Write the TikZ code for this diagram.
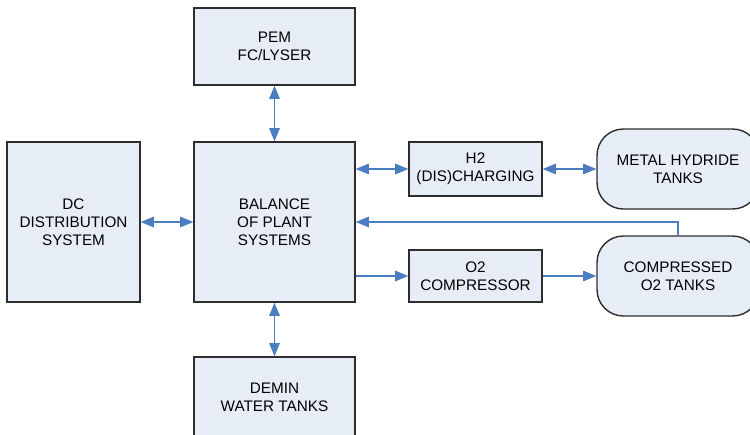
\documentclass[tikz,border=0pt]{standalone}
\usepackage{fontspec}
\setmainfont{Liberation Sans}
\usetikzlibrary{arrows.meta}
\definecolor{boxfill}{RGB}{231,237,247}
\definecolor{boxline}{RGB}{45,45,45}
\definecolor{conn}{RGB}{74,126,193}
\begin{document}
\begin{tikzpicture}[x=0.02cm,y=-0.02cm,
  blk/.style={draw=boxline,line width=0.8pt,fill=boxfill,inner sep=0pt,align=center,
    font=\fontsize{8.7}{10.2}\selectfont},
  tank/.style={blk,rounded corners=15pt},
  link/.style={draw=conn,line width=0.7pt,-{Triangle[length=7.5pt,width=6pt]}},
  dlink/.style={draw=conn,line width=0.7pt,{Triangle[length=7.5pt,width=6pt]}-{Triangle[length=7.5pt,width=6pt]}}]
\useasboundingbox (0,0) rectangle (750,434);
\node[blk,minimum width=3.22cm,minimum height=1.54cm] (pem) at (274.5,46.5) {PEM\\FC/LYSER};
\node[blk,minimum width=2.66cm,minimum height=3.2cm] (dc) at (73.5,222) {DC\\DISTRIBUTION\\SYSTEM};
\node[blk,minimum width=3.22cm,minimum height=3.2cm] (bal) at (274.5,222) {BALANCE\\OF PLANT\\SYSTEMS};
\node[blk,minimum width=2.66cm,minimum height=1.08cm] (h2) at (475.5,169) {H2\\(DIS)CHARGING};
\node[blk,minimum width=2.66cm,minimum height=1.04cm] (o2c) at (475.5,276) {O2\\COMPRESSOR};
\node[tank,minimum width=3.24cm,minimum height=1.6cm] (mh) at (678,169) {METAL HYDRIDE\\TANKS};
\node[tank,minimum width=3.24cm,minimum height=1.6cm] (co2) at (678,276) {COMPRESSED\\O2 TANKS};
\node[blk,minimum width=3.22cm,minimum height=1.6cm] (dem) at (274.5,397) {DEMIN\\WATER TANKS};
\draw[dlink] (pem.south) -- (bal.north);
\draw[dlink] (dc.east) -- (bal.west);
\draw[dlink] (h2.west -| bal.east) -- (h2.west);
\draw[dlink] (h2.east) -- (mh.west);
\draw[link] (co2.north) |- (bal.east);
\draw[link] (o2c.west -| bal.east) -- (o2c.west);
\draw[link] (o2c.east) -- (co2.west);
\draw[dlink] (bal.south) -- (dem.north);
\end{tikzpicture}
\end{document}
